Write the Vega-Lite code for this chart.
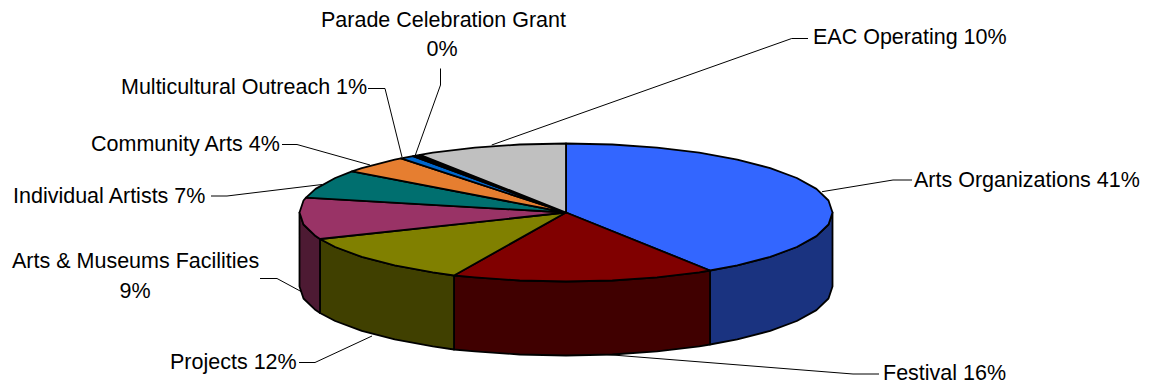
{"$schema":"https://vega.github.io/schema/vega-lite/v6.json","width":1149,"height":383,"padding":0,"autosize":{"type":"none"},"background":"white","config":{"view":{"stroke":null}},
"datasets":{"faces":[
{"part":"Arts side","i":0,"x":832.5,"y":212.5},{"part":"Arts side","i":1,"x":828.5,"y":224.5},{"part":"Arts side","i":2,"x":816.4,"y":236.1},{"part":"Arts side","i":3,"x":796.8,"y":247},{"part":"Arts side","i":4,"x":770.2,"y":256.9},{"part":"Arts side","i":5,"x":737.3,"y":265.4},{"part":"Arts side","i":6,"x":710,"y":270.5},{"part":"Arts side","i":7,"x":710,"y":344.5},{"part":"Arts side","i":8,"x":737.3,"y":339.4},{"part":"Arts side","i":9,"x":770.2,"y":330.9},{"part":"Arts side","i":10,"x":796.8,"y":321},{"part":"Arts side","i":11,"x":816.4,"y":310.1},{"part":"Arts side","i":12,"x":828.5,"y":298.5},{"part":"Arts side","i":13,"x":832.5,"y":286.5},
{"part":"Festival side","i":0,"x":710,"y":270.5},{"part":"Festival side","i":1,"x":699.3,"y":272.3},{"part":"Festival side","i":2,"x":657.1,"y":277.3},{"part":"Festival side","i":3,"x":612.3,"y":280.5},{"part":"Festival side","i":4,"x":566,"y":281.5},{"part":"Festival side","i":5,"x":519.7,"y":280.5},{"part":"Festival side","i":6,"x":474.9,"y":277.3},{"part":"Festival side","i":7,"x":454,"y":275.5},{"part":"Festival side","i":8,"x":454,"y":349.5},{"part":"Festival side","i":9,"x":474.9,"y":351.3},{"part":"Festival side","i":10,"x":519.7,"y":354.5},{"part":"Festival side","i":11,"x":566,"y":355.5},{"part":"Festival side","i":12,"x":612.3,"y":354.5},{"part":"Festival side","i":13,"x":657.1,"y":351.3},{"part":"Festival side","i":14,"x":699.3,"y":346.3},{"part":"Festival side","i":15,"x":710,"y":344.5},
{"part":"Projects side","i":0,"x":454,"y":275.5},{"part":"Projects side","i":1,"x":432.8,"y":272.3},{"part":"Projects side","i":2,"x":394.7,"y":265.4},{"part":"Projects side","i":3,"x":361.8,"y":256.9},{"part":"Projects side","i":4,"x":335.2,"y":247},{"part":"Projects side","i":5,"x":320,"y":239},{"part":"Projects side","i":6,"x":320,"y":313},{"part":"Projects side","i":7,"x":335.2,"y":321},{"part":"Projects side","i":8,"x":361.8,"y":330.9},{"part":"Projects side","i":9,"x":394.7,"y":339.4},{"part":"Projects side","i":10,"x":432.8,"y":346.3},{"part":"Projects side","i":11,"x":454,"y":349.5},
{"part":"Museums side","i":0,"x":320,"y":239},{"part":"Museums side","i":1,"x":315.6,"y":236.1},{"part":"Museums side","i":2,"x":303.5,"y":224.5},{"part":"Museums side","i":3,"x":299.5,"y":212.5},{"part":"Museums side","i":4,"x":299.5,"y":286.5},{"part":"Museums side","i":5,"x":303.5,"y":298.5},{"part":"Museums side","i":6,"x":315.6,"y":310.1},{"part":"Museums side","i":7,"x":320,"y":313},
{"part":"Arts top","i":0,"x":566,"y":212.5},{"part":"Arts top","i":1,"x":566,"y":143.5},{"part":"Arts top","i":2,"x":612.3,"y":144.5},{"part":"Arts top","i":3,"x":657.1,"y":147.7},{"part":"Arts top","i":4,"x":699.3,"y":152.7},{"part":"Arts top","i":5,"x":737.3,"y":159.6},{"part":"Arts top","i":6,"x":770.2,"y":168.1},{"part":"Arts top","i":7,"x":796.8,"y":178},{"part":"Arts top","i":8,"x":816.4,"y":188.9},{"part":"Arts top","i":9,"x":828.5,"y":200.5},{"part":"Arts top","i":10,"x":832.5,"y":212.5},{"part":"Arts top","i":11,"x":828.5,"y":224.5},{"part":"Arts top","i":12,"x":816.4,"y":236.1},{"part":"Arts top","i":13,"x":796.8,"y":247},{"part":"Arts top","i":14,"x":770.2,"y":256.9},{"part":"Arts top","i":15,"x":737.3,"y":265.4},{"part":"Arts top","i":16,"x":710,"y":270.5},
{"part":"Festival top","i":0,"x":566,"y":212.5},{"part":"Festival top","i":1,"x":710,"y":270.5},{"part":"Festival top","i":2,"x":699.3,"y":272.3},{"part":"Festival top","i":3,"x":657.1,"y":277.3},{"part":"Festival top","i":4,"x":612.3,"y":280.5},{"part":"Festival top","i":5,"x":566,"y":281.5},{"part":"Festival top","i":6,"x":519.7,"y":280.5},{"part":"Festival top","i":7,"x":474.9,"y":277.3},{"part":"Festival top","i":8,"x":454,"y":275.5},
{"part":"Projects top","i":0,"x":566,"y":212.5},{"part":"Projects top","i":1,"x":454,"y":275.5},{"part":"Projects top","i":2,"x":432.8,"y":272.3},{"part":"Projects top","i":3,"x":394.7,"y":265.4},{"part":"Projects top","i":4,"x":361.8,"y":256.9},{"part":"Projects top","i":5,"x":335.2,"y":247},{"part":"Projects top","i":6,"x":320,"y":239},
{"part":"Museums top","i":0,"x":566,"y":212.5},{"part":"Museums top","i":1,"x":320,"y":239},{"part":"Museums top","i":2,"x":315.6,"y":236.1},{"part":"Museums top","i":3,"x":303.5,"y":224.5},{"part":"Museums top","i":4,"x":299.5,"y":212.5},{"part":"Museums top","i":5,"x":303.5,"y":200.5},{"part":"Museums top","i":6,"x":306,"y":197.6},
{"part":"Individual top","i":0,"x":566,"y":212.5},{"part":"Individual top","i":1,"x":306,"y":197.6},{"part":"Individual top","i":2,"x":315.6,"y":188.9},{"part":"Individual top","i":3,"x":335.2,"y":178},{"part":"Individual top","i":4,"x":352,"y":171.4},
{"part":"Community top","i":0,"x":566,"y":212.5},{"part":"Community top","i":1,"x":352,"y":171.4},{"part":"Community top","i":2,"x":361.8,"y":168.1},{"part":"Community top","i":3,"x":394.7,"y":159.6},{"part":"Community top","i":4,"x":401,"y":158.3},
{"part":"Multicultural top","i":0,"x":566,"y":212.5},{"part":"Multicultural top","i":1,"x":401,"y":158.3},{"part":"Multicultural top","i":2,"x":413,"y":156.2},
{"part":"Parade top","i":0,"x":566,"y":212.5},{"part":"Parade top","i":1,"x":413,"y":156.2},{"part":"Parade top","i":2,"x":420,"y":154.8},
{"part":"EAC top","i":0,"x":566,"y":212.5},{"part":"EAC top","i":1,"x":420,"y":154.8},{"part":"EAC top","i":2,"x":432.8,"y":152.7},{"part":"EAC top","i":3,"x":474.9,"y":147.7},{"part":"EAC top","i":4,"x":519.7,"y":144.5},{"part":"EAC top","i":5,"x":566,"y":143.5}
],
"leaders":[
{"k":"Arts","i":0,"x":822,"y":191.7},{"k":"Arts","i":1,"x":893,"y":180},{"k":"Arts","i":2,"x":912,"y":180},
{"k":"Festival","i":0,"x":600,"y":354},{"k":"Festival","i":1,"x":853,"y":374},{"k":"Festival","i":2,"x":879,"y":374},
{"k":"Projects","i":0,"x":372,"y":336},{"k":"Projects","i":1,"x":315,"y":362.5},{"k":"Projects","i":2,"x":299,"y":362.5},
{"k":"Museums","i":0,"x":302,"y":292},{"k":"Museums","i":1,"x":277,"y":278.5},{"k":"Museums","i":2,"x":260,"y":278.5},
{"k":"Individual","i":0,"x":322,"y":184.5},{"k":"Individual","i":1,"x":227,"y":196},{"k":"Individual","i":2,"x":211,"y":196},
{"k":"Community","i":0,"x":370,"y":165},{"k":"Community","i":1,"x":297,"y":144.5},{"k":"Community","i":2,"x":282,"y":144.5},
{"k":"Multicultural","i":0,"x":402,"y":157},{"k":"Multicultural","i":1,"x":385,"y":88.5},{"k":"Multicultural","i":2,"x":368,"y":88.5},
{"k":"Parade","i":0,"x":415,"y":156},{"k":"Parade","i":1,"x":440.5,"y":85},{"k":"Parade","i":2,"x":440.5,"y":68.5},
{"k":"EAC","i":0,"x":491.7,"y":145},{"k":"EAC","i":1,"x":791.7,"y":38.5},{"k":"EAC","i":2,"x":808,"y":38.5}
],
"labels":[
{"text":"Arts Organizations 41%","x":914,"y":180,"a":"left"},
{"text":"Festival 16%","x":883,"y":373,"a":"left"},
{"text":"Projects 12%","x":170,"y":362,"a":"left"},
{"text":"Arts & Museums Facilities","x":12,"y":261,"a":"left"},
{"text":"9%","x":135,"y":291,"a":"center"},
{"text":"Individual Artists 7%","x":13,"y":196,"a":"left"},
{"text":"Community Arts 4%","x":91,"y":144,"a":"left"},
{"text":"Multicultural Outreach 1%","x":121,"y":87,"a":"left"},
{"text":"Parade Celebration Grant","x":321,"y":20,"a":"left"},
{"text":"0%","x":442,"y":49,"a":"center"},
{"text":"EAC Operating 10%","x":813,"y":37,"a":"left"}
]},
"layer":[
{"data":{"name":"leaders"},"mark":{"type":"line","stroke":"black","strokeWidth":1,"interpolate":"linear"},"encoding":{"x":{"field":"x","type":"quantitative","scale":{"domain":[0,1149]},"axis":null},"y":{"field":"y","type":"quantitative","scale":{"domain":[383,0]},"axis":null},"detail":{"field":"k"},"order":{"field":"i"}}},
{"data":{"name":"faces"},"mark":{"type":"line","stroke":"black","strokeWidth":1.8,"strokeJoin":"round","interpolate":"linear-closed"},"encoding":{"x":{"field":"x","type":"quantitative","scale":{"domain":[0,1149]},"axis":null},"y":{"field":"y","type":"quantitative","scale":{"domain":[383,0]},"axis":null},"detail":{"field":"part"},"order":{"field":"i"},"fill":{"field":"part","type":"nominal","legend":null,"scale":{"domain":["Arts side","Festival side","Projects side","Museums side","Arts top","Festival top","Projects top","Museums top","Individual top","Community top","Multicultural top","Parade top","EAC top"],"range":["#1A3380","#400000","#404000","#4D1A33","#3366FF","#800000","#808000","#993366","#006F6F","#E67E30","#0066CC","#000000","#C0C0C0"]}}}},
{"data":{"name":"labels"},"transform":[{"filter":"datum.a==='left'"}],"mark":{"type":"text","font":"Liberation Sans","fontSize":21.5,"align":"left","baseline":"middle","dy":1.2,"color":"black"},"encoding":{"x":{"field":"x","type":"quantitative","scale":{"domain":[0,1149]},"axis":null},"y":{"field":"y","type":"quantitative","scale":{"domain":[383,0]},"axis":null},"text":{"field":"text"}}},
{"data":{"name":"labels"},"transform":[{"filter":"datum.a==='center'"}],"mark":{"type":"text","font":"Liberation Sans","fontSize":21.5,"align":"center","baseline":"middle","dy":1.2,"color":"black"},"encoding":{"x":{"field":"x","type":"quantitative","scale":{"domain":[0,1149]},"axis":null},"y":{"field":"y","type":"quantitative","scale":{"domain":[383,0]},"axis":null},"text":{"field":"text"}}}
]}
